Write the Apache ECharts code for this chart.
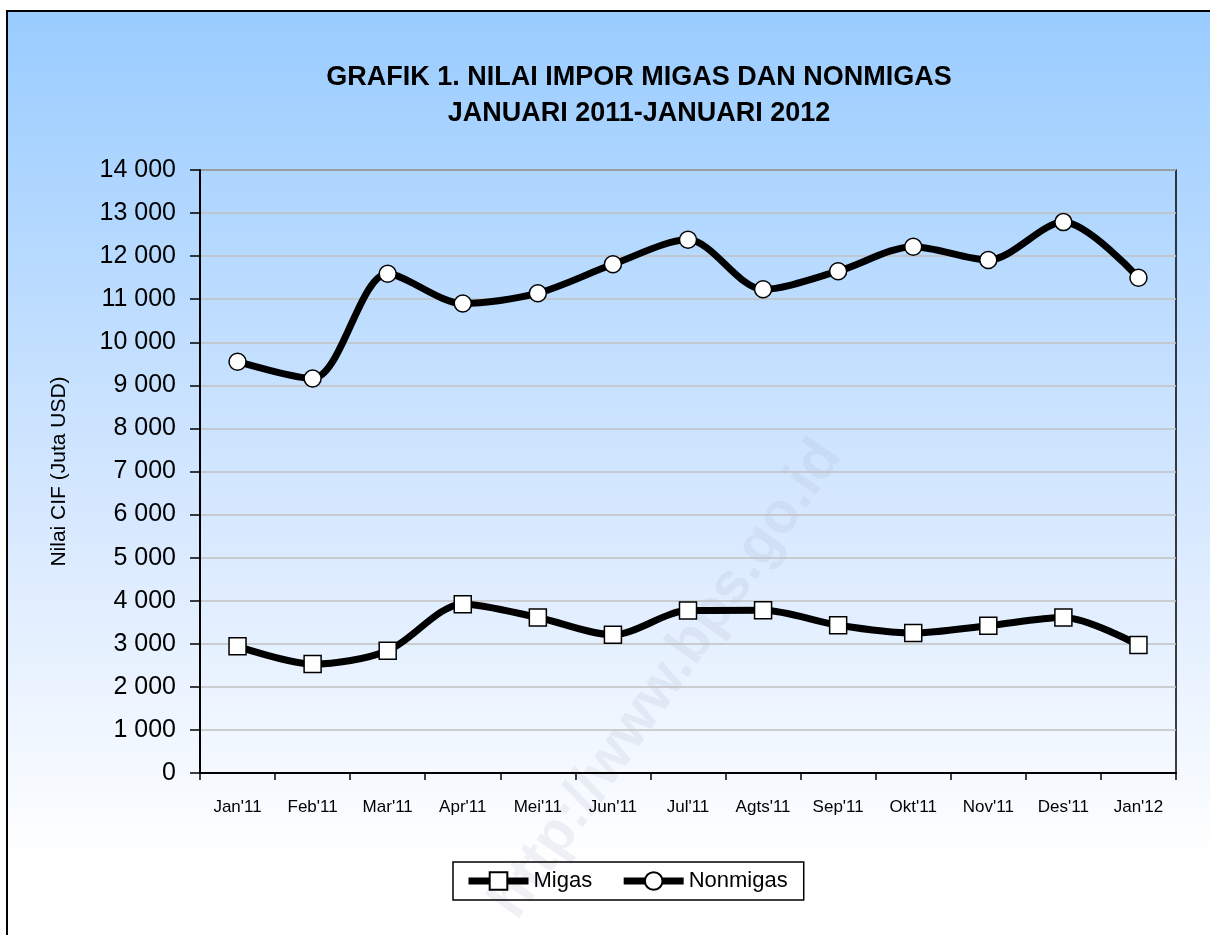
<!DOCTYPE html>
<html>
<head>
<meta charset="utf-8">
<script src="https://cdn.jsdelivr.net/npm/echarts@6/dist/echarts.min.js"></script>
<style>
  html, body { margin: 0; padding: 0; background: #fff; }
  #main { width: 1210px; height: 935px; }
</style>
</head>
<body>
<div id="main"></div>
<script>
// data
var months = ["Jan'11", "Feb'11", "Mar'11", "Apr'11", "Mei'11", "Jun'11", "Jul'11",
  "Agts'11", "Sep'11", "Okt'11", "Nov'11", "Des'11", "Jan'12"]
var migas = [2940, 2530, 2840, 3920, 3610, 3210, 3770, 3780, 3430, 3250, 3420, 3610, 2970]
var nonmigas = [9550, 9160, 11590, 10900, 11140, 11810, 12380, 11230, 11650, 12220, 11910, 12790, 11500]

var narrow = "'Liberation Sans Narrow', 'Arial Narrow', 'Liberation Sans', sans-serif"

var chart = echarts.init(document.getElementById('main'))
chart.setOption({
  backgroundColor: '#ffffff',
  animation: false,
  graphic: [
    {
      type: 'rect',
      z: -10,
      shape: { x: 7, y: 11, width: 1300, height: 1000 },
      style: {
        fill: new echarts.graphic.LinearGradient(0, 0, 0, 1, [
          { offset: 0, color: '#99ccff' },
          { offset: 0.5, color: '#d6e8ff' },
          { offset: 0.85, color: '#ffffff' }
        ]),
        stroke: '#000',
        lineWidth: 2
      }
    },
    {
      type: 'text',
      z: -5,
      left: 480,
      top: 430,
      rotation: Math.PI * 55 / 180,
      originX: 0,
      originY: 0,
      style: {
        text: 'http://www.bps.go.id',
        font: 'bold 58px Arial, sans-serif',
        fill: 'rgba(170,180,200,0.18)'
      }
    }
  ],
  title: {
    text: 'GRAFIK 1. NILAI IMPOR MIGAS DAN NONMIGAS\nJANUARI 2011-JANUARI 2012',
    left: 634,
    top: 55,
    textAlign: 'center',
    textStyle: {
      fontFamily: narrow,
      fontWeight: 'bold',
      fontSize: 27,
      lineHeight: 36,
      color: '#000'
    }
  },
  legend: {
    data: ['Migas', 'Nonmigas'],
    left: 453,
    top: 862,
    padding: [8, 16, 8, 12],
    borderColor: '#000',
    borderWidth: 1.5,
    itemWidth: 60,
    itemHeight: 22,
    itemGap: 28,
    lineStyle: { width: 7 },
    textStyle: { fontFamily: narrow, fontSize: 22, color: '#000' }
  },
  grid: {
    left: 200,
    top: 170,
    width: 976,
    height: 603,
    show: true,
    borderColor: '#000',
    borderWidth: 1.5,
    backgroundColor: 'transparent'
  },
  xAxis: {
    type: 'category',
    data: months,
    boundaryGap: true,
    axisLine: { lineStyle: { color: '#000', width: 2 } },
    axisTick: { show: true, inside: false, length: 7, lineStyle: { color: '#000', width: 1.5 } },
    axisLabel: { fontFamily: narrow, fontSize: 17, color: '#000', margin: 26, interval: 0 },
    splitLine: { show: false }
  },
  yAxis: {
    type: 'value',
    min: 0,
    max: 14000,
    interval: 1000,
    name: 'Nilai CIF (Juta USD)',
    nameLocation: 'middle',
    nameGap: 130,
    nameTextStyle: { fontFamily: narrow, fontSize: 21, color: '#000' },
    axisLine: { show: true, lineStyle: { color: '#000', width: 2 } },
    axisTick: { show: true, length: 10, lineStyle: { color: '#000', width: 1.5 } },
    axisLabel: {
      fontFamily: 'Arial, Liberation Sans, sans-serif',
      fontSize: 25,
      color: '#000',
      margin: 24,
      formatter: function (v) {
        return String(v).replace(/\B(?=(\d{3})+(?!\d))/g, ' ')
      }
    },
    splitLine: { show: true, lineStyle: { color: '#c0c0c0', width: 1.5 } }
  },
  series: [
    {
      name: 'Migas',
      type: 'line',
      data: migas,
      smooth: 0.3,
      symbol: 'rect',
      symbolSize: 17,
      lineStyle: { color: '#000', width: 7 },
      itemStyle: { color: '#fff', borderColor: '#000', borderWidth: 1.5 },
      z: 3
    },
    {
      name: 'Nonmigas',
      type: 'line',
      data: nonmigas,
      smooth: 0.3,
      symbol: 'circle',
      symbolSize: 17,
      lineStyle: { color: '#000', width: 7 },
      itemStyle: { color: '#fff', borderColor: '#000', borderWidth: 1.5 },
      z: 3
    }
  ]
})
</script>
</body>
</html>
